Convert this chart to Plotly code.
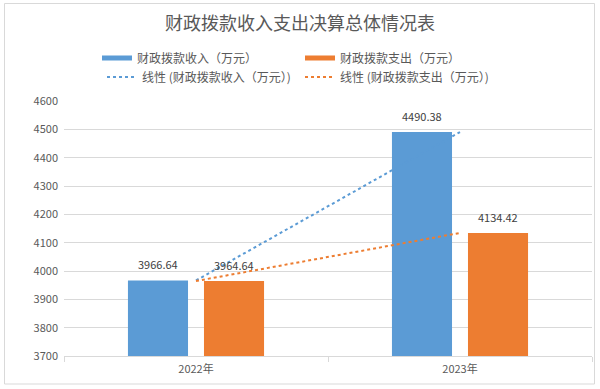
import plotly.graph_objects as go

categories = ["2022年", "2023年"]
income = [3966.64, 4490.38]
expense = [3964.64, 4134.42]
income_label = ["3966.64", "4490.38"]
expense_label = ["3964.64", "4134.42"]
y_ticks = [3700, 3800, 3900, 4000, 4100, 4200, 4300, 4400, 4500, 4600]

BLUE = "#5B9BD5"
ORANGE = "#ED7D31"
FONT = "Noto Sans CJK SC, Microsoft YaHei, sans-serif"

fig = go.Figure()
fig.add_trace(go.Bar(
    x=categories, y=income, name="财政拨款收入（万元）",
    marker=dict(color=BLUE, line=dict(width=0)), showlegend=False,
))
fig.add_trace(go.Bar(
    x=categories, y=expense, name="财政拨款支出（万元）",
    marker=dict(color=ORANGE, line=dict(width=0)), showlegend=False,
))
# legend swatches for the bars (wide thin rectangles like the original)
fig.add_trace(go.Scatter(
    x=[None], y=[None], mode="lines", name="财政拨款收入（万元）",
    line=dict(color=BLUE, width=5), legend="legend",
))
fig.add_trace(go.Scatter(
    x=[None], y=[None], mode="lines", name="财政拨款支出（万元）",
    line=dict(color=ORANGE, width=5), legend="legend",
))
fig.add_trace(go.Scatter(
    x=categories, y=income, mode="lines", name="线性 (财政拨款收入（万元）)",
    line=dict(color=BLUE, width=2, dash="dot"), legend="legend2",
))
fig.add_trace(go.Scatter(
    x=categories, y=expense, mode="lines", name="线性 (财政拨款支出（万元）)",
    line=dict(color=ORANGE, width=2, dash="dot"), legend="legend2",
))

W, H = 600, 389
ml, mr, mt, mb = 64, 8, 101, 33
pw = W - ml - mr
ph = H - mt - mb

def px_x(p):
    return (p - ml) / pw

def px_y(p):
    return (H - mb - p) / ph

annotations = []
for cat, v, lab in zip(categories, income, income_label):
    annotations.append(dict(x=cat, y=v, text=lab, showarrow=False, xshift=-38,
                            yanchor="bottom", yshift=6,
                            font=dict(size=11, color="#404040")))
for cat, v, lab in zip(categories, expense, expense_label):
    annotations.append(dict(x=cat, y=v, text=lab, showarrow=False, xshift=38,
                            yanchor="bottom", yshift=6,
                            font=dict(size=11, color="#404040")))

fig.update_layout(
    width=W, height=H,
    margin=dict(l=ml, r=mr, t=mt, b=mb, autoexpand=False),
    paper_bgcolor="white", plot_bgcolor="white",
    font=dict(family=FONT, color="#595959", size=11),
    title=dict(text="财政拨款收入支出决算总体情况表", x=0.5, xanchor="center",
               y=1 - 24 / H, yanchor="middle", yref="container",
               font=dict(size=18, color="#595959")),
    barmode="group", bargap=0.424, bargroupgap=0.21,
    showlegend=True,
    legend=dict(orientation="h", x=px_x(97), xanchor="left", y=px_y(58), yanchor="middle",
                entrywidth=158, entrywidthmode="pixels", font=dict(size=12, color="#595959"),
                itemwidth=30, traceorder="normal", bgcolor="rgba(0,0,0,0)"),
    legend2=dict(orientation="h", x=px_x(102), xanchor="left", y=px_y(77), yanchor="middle",
                 entrywidth=153, entrywidthmode="pixels", font=dict(size=12, color="#595959"),
                 itemwidth=30, traceorder="normal", bgcolor="rgba(0,0,0,0)"),
    xaxis=dict(type="category", showgrid=False, showline=True, linecolor="#d9d9d9",
               linewidth=1, ticks="outside", tickson="boundaries", ticklen=5,
               tickcolor="#d9d9d9", ticklabelstandoff=3,
               tickfont=dict(size=11, color="#595959")),
    yaxis=dict(range=[3700, 4600], tickvals=y_ticks, showgrid=True, gridcolor="#d9d9d9",
               gridwidth=1, zeroline=False, showline=False, ticks="", ticklabelstandoff=5,
               tickfont=dict(size=11, color="#595959")),
    annotations=annotations,
    shapes=[dict(type="rect", xref="paper", yref="paper",
                 x0=px_x(4.5), x1=px_x(594.5), y0=px_y(384), y1=px_y(3.5),
                 line=dict(color="#d9d9d9", width=1), fillcolor="rgba(0,0,0,0)", layer="below")],
)

fig.write_html("out.html", config={"displayModeBar": False},
               post_script="document.body.style.margin='0';")
